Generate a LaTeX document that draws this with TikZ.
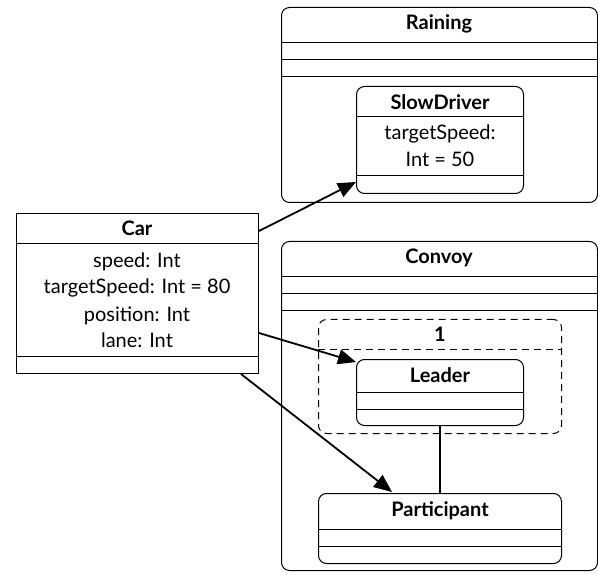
\documentclass[tikz,border=0pt]{standalone}
\usepackage{fontspec}
\setmainfont{Lato}
\usetikzlibrary{arrows.meta,calc}
\begin{document}
\begin{tikzpicture}[x=1pt,y=-1pt,
 box/.style={draw, line width=1pt, inner sep=0pt, anchor=north west},
 rbox/.style={box, rounded corners=8pt},
 dbox/.style={rbox, dash pattern=on 7pt off 5pt},
 lbl/.style={inner sep=0pt, anchor=base, font=\fontsize{20}{22}\selectfont},
 hdr/.style={inner sep=0pt, anchor=base, font=\fontsize{20}{22}\selectfont\bfseries},
 arr/.style={line width=1.8pt, -{Triangle[length=18pt,width=15pt]}},
 link/.style={line width=1.8pt},
 sep/.style={line width=1pt},
 dsep/.style={line width=1pt, dash pattern=on 7pt off 5pt}]
\useasboundingbox (0,0) rectangle (598,575);
% Car
\node[box, minimum width=242pt, minimum height=160pt] (car) at (16,213) {};
\draw[sep] (car.west |- 0,244) -- (car.east |- 0,244);
\draw[sep] (car.west |- 0,356) -- (car.east |- 0,356);
\node[hdr] (carT) at (137,236) {Car};
\node[lbl] (ca1) at (137,268) {speed: Int};
\node[lbl] (ca2) at (137,294) {targetSpeed: Int = 80};
\node[lbl] (ca3) at (137,321) {position: Int};
\node[lbl] (ca4) at (137,347.5) {lane: Int};
% Raining
\node[rbox, minimum width=316pt, minimum height=195pt] (rain) at (281,7) {};
\foreach \yy in {43,60,77} \draw[sep] (rain.west |- 0,\yy) -- (rain.east |- 0,\yy);
\node[hdr] (rainT) at (439,29.5) {Raining};
% SlowDriver
\node[rbox, minimum width=167pt, minimum height=107pt] (slow) at (356,86) {};
\foreach \yy in {117,176} \draw[sep] (slow.west |- 0,\yy) -- (slow.east |- 0,\yy);
\node[hdr] (slowT) at (440,109.5) {SlowDriver};
\node[lbl] (sa1) at (440,140) {targetSpeed:};
\node[lbl] (sa2) at (440,166.5) {Int = 50};
% Convoy
\node[rbox, minimum width=316pt, minimum height=329pt] (convoy) at (281,241) {};
\foreach \yy in {277,294,311} \draw[sep] (convoy.west |- 0,\yy) -- (convoy.east |- 0,\yy);
\node[hdr] (convoyT) at (439,263.5) {Convoy};
% dashed group
\node[dbox, minimum width=243pt, minimum height=114pt] (grp) at (318,319) {};
\draw[dsep] (grp.west |- 0,349) -- (grp.east |- 0,349);
\node[hdr] (grpT) at (440,341.5) {1};
% Leader
\node[rbox, minimum width=167pt, minimum height=66pt] (leader) at (356,359) {};
\foreach \yy in {392,409} \draw[sep] (leader.west |- 0,\yy) -- (leader.east |- 0,\yy);
\node[hdr] (leaderT) at (440,382.5) {Leader};
% Participant
\node[rbox, minimum width=243pt, minimum height=70pt] (part) at (318,493) {};
\foreach \yy in {529,546} \draw[sep] (part.west |- 0,\yy) -- (part.east |- 0,\yy);
\node[hdr] (partT) at (440,516) {Participant};
% connectors
\draw[link] (leader.south) -- (part.north);
\draw[arr] ([yshift=-18pt]car.north east) -- ([yshift=12pt]slow.south west);
\draw[arr] ([yshift=-120pt]car.north east) -- ([yshift=-3pt]leader.north west);
\draw[arr] ([xshift=-18pt]car.south east) -- ([xshift=74pt,yshift=1pt]part.north west);
\end{tikzpicture}
\end{document}
